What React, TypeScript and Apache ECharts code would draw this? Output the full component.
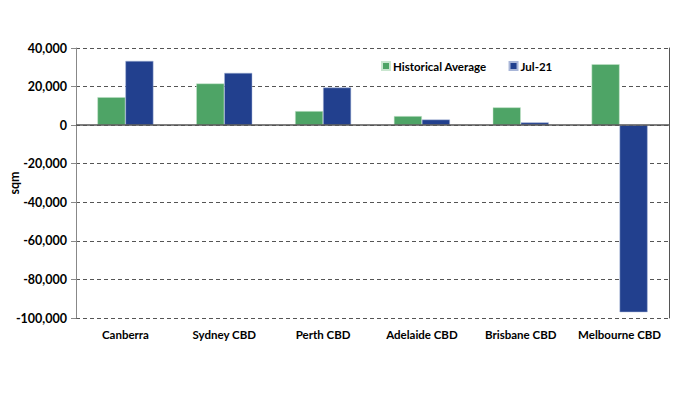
import React, { useEffect, useRef } from "react";
import * as echarts from "echarts";

const categories = ["Canberra", "Sydney CBD", "Perth CBD", "Adelaide CBD", "Brisbane CBD", "Melbourne CBD"];
const historicalAverage = [14500, 21600, 7300, 4700, 9200, 31600];
const jul21 = [33300, 27100, 19500, 2900, 1400, -97000];
const seriesNames = ["Historical Average", "Jul-21"];
const yAxisTitle = "sqm";

const FONT = "Lato, 'Liberation Sans', sans-serif";

export default function App() {
  const ref = useRef<HTMLDivElement>(null);
  useEffect(() => {
    if (!ref.current) return;
    const chart = echarts.init(ref.current, null, { renderer: "svg" });
    chart.setOption({
      animation: false,
      backgroundColor: "#ffffff",
      textStyle: { fontFamily: FONT },
      legend: {
        data: seriesNames,
        left: 376,
        top: 55,
        itemWidth: 8,
        itemHeight: 8,
        itemGap: 22,
        icon: "rect",
        textStyle: { fontFamily: FONT, fontWeight: "bold", fontSize: 11.5, color: "#000", padding: [0, 0, 0, -2] },
      },
      graphic: [
        {
          type: "text",
          x: 14,
          y: 183,
          rotation: Math.PI / 2,
          style: {
            text: yAxisTitle,
            fontFamily: FONT,
            fontWeight: "bold",
            fontSize: 12.5,
            fill: "#000",
            align: "center",
            verticalAlign: "middle",
          },
        },
      ],
      grid: { left: 76, right: 31, top: 48, bottom: 76, containLabel: false, outerBoundsMode: "none" },
      xAxis: {
        type: "category",
        data: categories,
        position: "bottom",
        axisLine: { show: false, onZero: false },
        axisTick: { show: false },
        axisLabel: { interval: 0, fontFamily: FONT, fontWeight: "bold", fontSize: 11.5, color: "#000", margin: 10 },
      },
      yAxis: [
        {
          type: "value",
          min: -100000,
          max: 40000,
          interval: 20000,
          axisLine: { show: true, lineStyle: { color: "#888", width: 1 } },
          axisTick: { show: true, length: 5, lineStyle: { color: "#888" } },
          axisLabel: {
            fontFamily: FONT,
            fontWeight: "bold",
            fontSize: 12.5,
            color: "#000",
            margin: 9,
            formatter: (v: number) => v.toLocaleString("en-US"),
          },
          splitLine: { show: true, lineStyle: { color: "#555", type: [4, 3], width: 1 } },
        },
        {
          type: "value",
          min: -100000,
          max: 40000,
          interval: 20000,
          position: "right",
          axisLine: { show: true, lineStyle: { color: "#555", width: 1 } },
          axisTick: { show: false },
          axisLabel: { show: false },
          splitLine: { show: false },
        },
      ],
      series: [
        {
          name: seriesNames[0],
          type: "bar",
          data: historicalAverage,
          barWidth: 28,
          barGap: "0%",
          itemStyle: { color: "#4ea466", borderColor: "#c9e6cf", borderWidth: 0.5 },
          markLine: {
            silent: true,
            symbol: "none",
            label: { show: false },
            lineStyle: { color: "#555", type: "solid", width: 1.5 },
            data: [{ yAxis: 0 }],
          },
        },
        {
          name: seriesNames[1],
          type: "bar",
          data: jul21,
          barWidth: 28,
          barGap: "0%",
          itemStyle: { color: "#22408e", borderColor: "#a9b6d8", borderWidth: 0.5 },
        },
      ],
    });
    return () => chart.dispose();
  }, []);
  return <div ref={ref} style={{ position: "fixed", left: 0, top: 0, width: 700, height: 394 }} />;
}
